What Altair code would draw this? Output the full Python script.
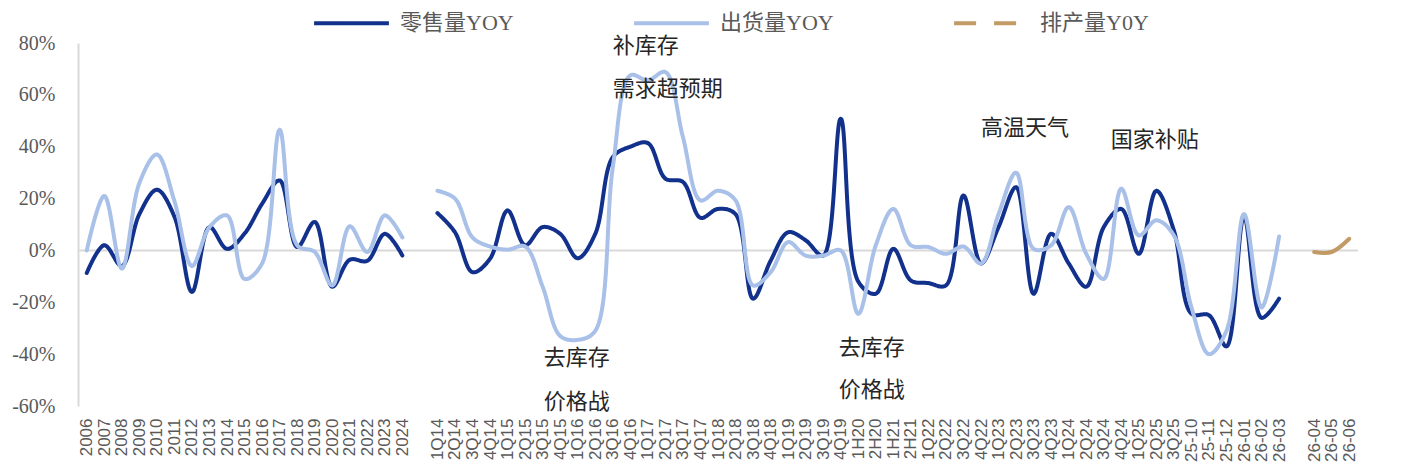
import altair as alt
import pandas as pd

# ---------------- data ----------------
annual_cats = ["2006", "2007", "2008", "2009", "2010", "2011", "2012", "2013", "2014",
               "2015", "2016", "2017", "2018", "2019", "2020", "2021", "2022", "2023", "2024"]
retail_annual = [-8.7, 2, -6, 14, 23.4, 13, -16, 9, 0.6, 6.5, 18, 27, 1.3, 11, -14, -3.6, -4, 6.4, -2]
ship_annual = [0, 21, -7, 26, 37, 19, -6, 9, 13.5, -11, -5, 46.5, 2, -0.6, -13.5, 9.3, -0.6, 13.5, 5]

quarter_cats = ["1Q14", "2Q14", "3Q14", "4Q14", "1Q15", "2Q15", "3Q15", "4Q15",
                "1Q16", "2Q16", "3Q16", "4Q16", "1Q17", "2Q17", "3Q17", "4Q17",
                "1Q18", "2Q18", "3Q18", "4Q18", "1Q19", "2Q19", "3Q19", "4Q19",
                "1H20", "2H20", "1H21", "2H21",
                "1Q22", "2Q22", "3Q22", "4Q22", "1Q23", "2Q23", "3Q23", "4Q23",
                "1Q24", "2Q24", "3Q24", "4Q24", "1Q25", "2Q25", "3Q25",
                "25-10", "25-11", "25-12", "26-01", "26-02", "26-03"]
retail_q = [14.4, 7, -8.4, -3.2, 15.4, 2, 9, 6.4,
            -3, 6.4, 36, 40, 41.4, 27.7, 26.4, 12.6,
            16, 14, -18.6, -4, 7, 3.9, -2, 50.8,
            -12, -16.7, 0.6, -11.6,
            -12.6, -13.5, 21.2, -5, 9, 24.4, -16.7, 6.4,
            -5, -14, 9, 16, -1.3, 23, 7.7,
            -24.4, -25, -37, 13, -26, -18.6]
ship_q = [23, 20, 5, 1.5, 0.3, 1.5, -14, -33,
          -34.5, -31, 32, 67.5, 65.6, 68.8, 43.7, 19.3,
          23, 19.3, -13.5, -8.4, 3.2, -2, -2, 0,
          -24.4, 2, 16, 2,
          1.3, -1.3, 1.5, -5, 14, 30, 0.6, 2,
          16.7, -1.3, -11, 23.8, 5.8, 11.6, 5.8,
          -21.9, -40, -31, 14, -22, 5.4]

forecast_cats = ["26-04", "26-05", "26-06"]
plan_forecast = [-0.6, -0.6, 4.5]

series_names = ["零售量YOY", "出货量YOY", "排产量Y0Y"]
series_colors = ["#12318C", "#A9C0E8", "#C19A66"]
series_dashes = [[1, 0], [1, 0], [22, 18]]

ann_labels = ["补库存", "需求超预期", "去库存", "价格战", "去库存", "价格战", "高温天气", "国家补贴"]
ann_cats = ["3Q16", "3Q16", "3Q15", "3Q15", "4Q19", "4Q19", "4Q22", "3Q24"]
ann_values = [79, 62.4, -41.6, -58.6, -37.8, -54, 47.4, 42.4]
ann_dx = [0, 0, 1, 1, -2, -2, 0, 7]

domain = annual_cats + ["gap1"] + quarter_cats + ["gap2"] + forecast_cats

# ---------------- tables ----------------
rows = []
for c, r, s in zip(annual_cats, retail_annual, ship_annual):
    rows.append({"cat": c, "series": series_names[0], "seg": "a", "v": r / 100})
    rows.append({"cat": c, "series": series_names[1], "seg": "a", "v": s / 100})
for c, r, s in zip(quarter_cats, retail_q, ship_q):
    rows.append({"cat": c, "series": series_names[0], "seg": "q", "v": r / 100})
    rows.append({"cat": c, "series": series_names[1], "seg": "q", "v": s / 100})
for c, p in zip(forecast_cats, plan_forecast):
    rows.append({"cat": c, "series": series_names[2], "seg": "f", "v": p / 100})
df = pd.DataFrame(rows)

ann = pd.DataFrame({"cat": ann_cats, "label": ann_labels, "dx": ann_dx,
                    "v": [a / 100 for a in ann_values]})

# ---------------- encodings ----------------
x_scale = alt.Scale(type="point", domain=domain, padding=0.5)
y_scale = alt.Scale(domain=[-0.6, 0.8], nice=False, zero=False)

x_enc = alt.X(
    "cat:N", sort=domain, scale=x_scale, title=None,
    axis=alt.Axis(
        labelAngle=270, labelFont="Liberation Sans", labelFontSize=17,
        labelColor="#595959", domain=False, ticks=False, labelPadding=12,
        labelOverlap=False,
        labelExpr="indexof(datum.value, 'gap') >= 0 ? '' : datum.value",
    ),
)
y_enc = alt.Y(
    "v:Q", scale=y_scale, title=None,
    axis=alt.Axis(
        values=[-0.6, -0.4, -0.2, 0, 0.2, 0.4, 0.6, 0.8], format=".0%",
        labelExpr="replace(datum.label, '−', '-')",
        labelFont="Liberation Serif", labelFontSize=20, labelColor="#595959",
        domainColor="#D9D9D9", domainWidth=2, ticks=False, grid=False,
        labelPadding=23,
    ),
)

legend_props = dict(
    orient="none", legendX=234, legendY=-59.5, direction="horizontal",
    columns=3, title=None, symbolType="stroke", symbolSize=5600,
    symbolStrokeWidth=4, labelFont="Liberation Serif, Noto Sans CJK SC",
    labelFontSize=22, labelColor="#595959", labelOffset=9,
    columnPadding=112, padding=0, gridAlign="all", labelLimit=400,
)
color_enc = alt.Color("series:N", scale=alt.Scale(domain=series_names, range=series_colors),
                      legend=alt.Legend(**legend_props))
dash_enc = alt.StrokeDash("series:N", scale=alt.Scale(domain=series_names, range=series_dashes),
                          legend=alt.Legend(**legend_props))

zero_rule = alt.Chart(pd.DataFrame({"v": [0.0]})).mark_rule(
    color="#D9D9D9", strokeWidth=2
).encode(y=alt.Y("v:Q", scale=y_scale))

def line_layer(name, with_dash=True):
    enc = dict(x=x_enc, y=y_enc, color=color_enc, detail="seg:N")
    if with_dash:
        enc["strokeDash"] = dash_enc
    return alt.Chart(df).transform_filter(
        alt.datum.series == name
    ).mark_line(
        interpolate="catmull-rom", strokeWidth=4, strokeCap="round", strokeJoin="round"
    ).encode(**enc)

text_layer = alt.Chart(ann).mark_text(
    align="left", baseline="middle", font="Noto Sans CJK SC", fontSize=22,
    color="#262626"
).encode(x=alt.X("cat:N", sort=domain, scale=x_scale),
         y=alt.Y("v:Q", scale=y_scale), text="label:N", xOffset=alt.XOffset("dx:Q", scale=None))

chart = alt.layer(
    zero_rule,
    line_layer(series_names[0]),
    line_layer(series_names[1]),
    line_layer(series_names[2], with_dash=False),
    text_layer,
).properties(
    width=1280, height=363,
    autosize=alt.AutoSizeParams(type="none"),
    padding={"left": 70, "top": 35, "right": 41, "bottom": 60},
).configure_view(stroke=None)

chart.save("out.html", embed_options={"renderer": "svg", "actions": False})
